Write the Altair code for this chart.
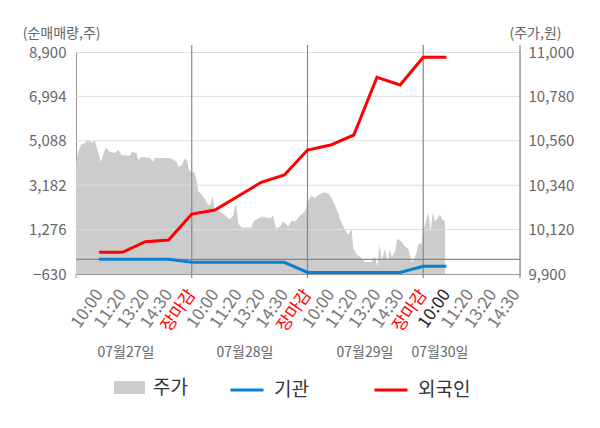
import json
import altair as alt
import pandas as pd

# ---------------- data ----------------
slot_labels = ["10:00", "11:20", "13:20", "14:30", "장마감"] * 3 + ["10:00", "11:20", "13:20", "14:30"]
day_labels = ["07월27일", "07월28일", "07월29일", "07월30일"]
day_label_x = [2.16, 7.3, 12.48, 15.72]
day_bounds = [5, 10, 15]
x_max = 19.18

left_ticks = [-630, 1276, 3182, 5088, 6994, 8900]
right_ticks = [9900, 10120, 10340, 10560, 10780, 11000]

line_x = list(range(1, 17))
foreign = [300, 300, 757, 829, 1945, 2117, 2710, 3306, 3620, 4693, 4907, 5337, 7814, 7483, 8672, 8672]
institution = [0, 0, 0, 0, -129, -129, -129, -129, -129, -565, -565, -565, -565, -565, -300, -300]

price_x = [0.00, 0.09, 0.22, 0.39, 0.52, 0.69, 0.82, 0.95, 1.08, 1.17,
           1.28, 1.47, 1.68, 1.83, 1.97, 2.33, 2.41, 2.62, 2.69, 2.84,
           3.20, 3.34, 3.41, 4.06, 4.35, 4.42, 4.57, 4.71, 4.81, 4.88,
           5.00, 5.10, 5.21, 5.28, 5.43, 5.54, 5.65, 5.79, 5.90, 6.00,
           6.22, 6.44, 6.65, 6.79, 6.91, 7.01, 7.16, 7.59, 7.66, 8.02,
           8.38, 8.52, 8.64, 8.81, 8.95, 9.17, 9.32, 9.46, 9.68, 9.89,
           10.03, 10.18, 10.32, 10.47, 10.68, 10.90, 11.05, 11.19, 11.33, 11.48,
           11.62, 11.76, 11.91, 11.98, 12.13, 12.27, 12.48, 12.77, 12.92, 13.02,
           13.10, 13.21, 13.35, 13.46, 13.56, 13.64, 13.78, 13.88, 14.07, 14.21,
           14.35, 14.50, 14.60, 14.72, 14.79, 14.93, 15.00, 15.12, 15.22, 15.32,
           15.41, 15.51, 15.61, 15.72, 15.82, 15.94]
price = [10450, 10505, 10540, 10550, 10565, 10550, 10560, 10505, 10455, 10490,
         10525, 10505, 10500, 10515, 10490, 10485, 10505, 10500, 10465, 10480,
         10475, 10455, 10475, 10475, 10455, 10430, 10440, 10475, 10455, 10415,
         10400, 10405, 10365, 10310, 10295, 10275, 10250, 10240, 10285, 10215,
         10210, 10190, 10170, 10190, 10255, 10150, 10130, 10130, 10160, 10185,
         10175, 10190, 10125, 10135, 10160, 10135, 10165, 10160, 10190, 10210,
         10260, 10290, 10275, 10290, 10305, 10300, 10275, 10240, 10200, 10150,
         10120, 10095, 10120, 10025, 9995, 9985, 9960, 9960, 9985, 9935,
         10050, 9970, 10025, 9960, 10020, 9985, 10010, 10075, 10060, 10035,
         10025, 9960, 9970, 10010, 10050, 10050, 10120, 10160, 10205, 10110,
         10205, 10160, 10175, 10195, 10170, 10160]

# ---------------- tables ----------------
area_df = pd.DataFrame({"x": price_x, "p": price, "ps": ["주가"] * len(price)})
lines_df = pd.DataFrame({
    "x": line_x * 2,
    "v": institution + foreign,
    "s": ["기관"] * len(line_x) + ["외국인"] * len(line_x),
})
grid_df = pd.DataFrame({"p": right_ticks[1:-1]})
vrule_df = pd.DataFrame({"x": day_bounds + [x_max]})
tick0_df = pd.DataFrame({"x": [0]})
zero_df = pd.DataFrame({"v": [0]})
days_df = pd.DataFrame({"x": day_label_x, "t": day_labels})

W, H = 444, 222
FONT = "Noto Sans CJK KR"
GRAY = "#666666"
BLUE = "#0a7fcf"
RED = "#ff0000"

x_scale = alt.Scale(domain=[0, x_max], nice=False, zero=False)
x_axis = alt.Axis(
    values=list(range(1, 20)),
    labelExpr=json.dumps(slot_labels) + "[datum.value - 1]",
    labelAngle=305, labelAlign="right", labelBaseline="middle",
    labelFontSize=17, labelFont=FONT, labelPadding=17,
    labelColor={"condition": [
        {"test": "datum.value % 5 == 0", "value": RED},
        {"test": "datum.value == 16", "value": "#222222"},
    ], "value": "#777777"},
    labelOverlap=False, labelFlush=False,
    ticks=False, grid=False, domainColor="#999999", title=None,
)
X = alt.X("x:Q", scale=x_scale, axis=x_axis)

right_scale = alt.Scale(domain=[9900, 11000], nice=False, zero=False)
right_axis = alt.Axis(
    orient="right", values=right_ticks, format=",.0f", grid=False, ticks=False,
    domain=False, labelPadding=8, labelFontSize=15, labelFont=FONT, labelColor=GRAY,
    title="(주가,원)", titleAngle=0, titleAlign="left", titleBaseline="middle",
    titleX=-11, titleY=-19, titleFontSize=14, titleFont=FONT, titleColor=GRAY,
    titleFontWeight="normal",
)
left_scale = alt.Scale(domain=[-630, 8900], nice=False, zero=False)
left_axis = alt.Axis(
    orient="left", values=left_ticks, format=",.0f", grid=False, ticks=False,
    domainColor="#999999", labelPadding=10, labelFontSize=15, labelFont=FONT,
    labelColor=GRAY,
    title="(순매매량,주)", titleAngle=0, titleAlign="right", titleBaseline="middle",
    titleX=24, titleY=-19, titleFontSize=14, titleFont=FONT, titleColor=GRAY,
    titleFontWeight="normal",
)

area = alt.Chart(area_df).mark_area(opacity=1).encode(
    x=X,
    y=alt.Y("p:Q", scale=right_scale, axis=right_axis),
    y2=alt.datum(9900),
    fill=alt.Fill("ps:N", scale=alt.Scale(domain=["주가"], range=["#cccccc"]),
                  legend=alt.Legend(
                      orient="none", legendX=38, legendY=320, title=None,
                      symbolType="M-1,-0.42H1V0.42H-1Z", symbolSize=961,
                      symbolStrokeWidth=0, symbolOpacity=1,
                      labelFontSize=19, labelFont=FONT, labelColor="#333333",
                      labelOffset=8, padding=0,
                  )),
)
grid = alt.Chart(grid_df).mark_rule(color="#dddddd", strokeWidth=1).encode(
    y=alt.Y("p:Q", scale=right_scale, axis=right_axis)
)

zero = alt.Chart(zero_df).mark_rule(color="#888888", strokeWidth=1.2).encode(
    y=alt.Y("v:Q", scale=left_scale, axis=left_axis)
)
vrules = alt.Chart(vrule_df).mark_rule(color="#888888", strokeWidth=1.2).encode(
    x=X, y=alt.value(-7), y2=alt.value(H + 4)
)
tick0 = alt.Chart(tick0_df).mark_rule(color="#999999", strokeWidth=1).encode(
    x=X, y=alt.value(H), y2=alt.value(H + 4)
)
lines = alt.Chart(lines_df).mark_line(strokeWidth=3).encode(
    x=X,
    y=alt.Y("v:Q", scale=left_scale, axis=left_axis),
    color=alt.Color("s:N", scale=alt.Scale(domain=["기관", "외국인"], range=[BLUE, RED]),
                    legend=alt.Legend(
                        orient="none", legendX=153, legendY=320, title=None,
                        direction="horizontal", symbolType="stroke", symbolSize=1089,
                        symbolStrokeWidth=3, columnPadding=59,
                        labelFontSize=19, labelFont=FONT, labelColor="#333333",
                        labelOffset=9, padding=0,
                    )),
)
days = alt.Chart(days_df).mark_text(
    font=FONT, fontSize=14, color=GRAY, align="center", baseline="middle"
).encode(x=X, y=alt.value(H + 79), text="t:N")

left_layer = alt.layer(area, grid)
right_layer = alt.layer(zero, vrules, tick0, lines, days)

chart = alt.layer(left_layer, right_layer).resolve_scale(
    y="independent"
).properties(
    width=W, height=H,
    padding={"left": 68, "top": 44, "right": 72, "bottom": 146},
    autosize=alt.AutoSizeParams(type="none"),
).configure_view(
    fill="#f4f4f4", strokeWidth=0
).configure(font=FONT)

chart.save("out.html", embed_options={"renderer": "svg", "actions": False})
